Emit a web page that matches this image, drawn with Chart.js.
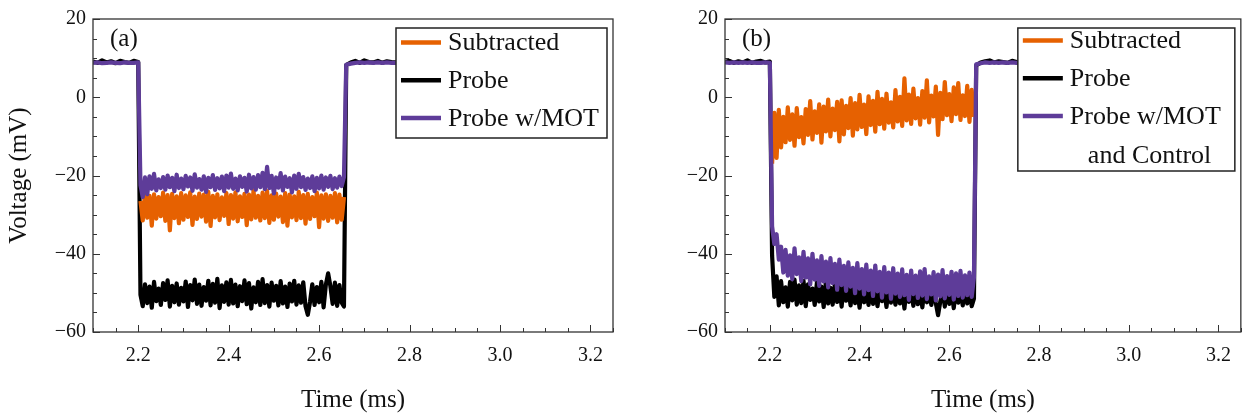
<!DOCTYPE html>
<html>
<head>
<meta charset="utf-8">
<script src="https://cdn.jsdelivr.net/npm/chart.js@4.4.1/dist/chart.umd.min.js"></script>
<style>
  html, body { margin: 0; padding: 0; background: #fff; }
  #wrap { position: relative; width: 1243px; height: 415px; }
  canvas { position: absolute; top: 0; }
</style>
</head>
<body>
<div id="wrap">
  <canvas id="panel-a" width="620" height="415" style="left:0"></canvas>
  <canvas id="panel-b" width="623" height="415" style="left:620px"></canvas>
</div>
<script>
// ─── Data ──────────────────────────────────────────────
// scope sampling: coarse on the flat parts, 5 µs through the pulse
const PRE   = [2.10, 2.20, 0.01];
const PULSE = [2.205, 2.655, 0.005];
const POST  = [2.66, 2.80, 0.01];

const seriesNames = ['Subtracted', 'Probe', 'Probe w/MOT'];
const xMajor = [2.2, 2.4, 2.6, 2.8, 3.0, 3.2];
const yMajor = [-60, -40, -20, 0, 20];

// panel (a) – values in mV, pre + pulse + post
const probeA = [
  9.1, 8.8, 9.4, 8.9, 9.2, 8.7, 9.3, 9.0, 8.8, 9.3, 9.0,
  -50.5, -53.4, -47.8, -52.6, -48.4, -53.8, -47.2, -52.1, -48.9, -53.1,
  -47.5, -51.8, -46.8, -53.5, -48.2, -52.4, -47.6, -53.0, -48.7, -52.2,
  -47.1, -53.6, -48.0, -51.9, -46.6, -52.8, -47.9, -53.3, -48.5, -52.0,
  -46.9, -53.2, -47.7, -52.5, -46.4, -53.9, -48.1, -52.3, -47.3, -53.0,
  -46.7, -52.7, -47.9, -53.4, -48.3, -52.1, -46.8, -52.9, -47.5, -54.0,
  -48.6, -52.4, -47.2, -53.1, -46.5, -52.6, -48.0, -53.5, -47.4, -52.0,
  -48.2, -53.2, -47.0, -52.7, -48.4, -53.6, -47.6, -52.2, -46.9, -53.0,
  -48.1, -52.5, -47.3, -53.4, -55.6, -52.3, -47.8, -53.1, -48.5, -52.4,
  -47.2, -53.7, -47.9, -45.0, -48.3, -52.8, -47.4, -53.3, -48.0, -52.5,
  -53.5,
  8.2, 8.9, 9.3, 8.8, 9.4, 9.0, 8.9, 9.3, 8.8, 9.2, 9.0, 8.9, 9.3, 9.0, 8.9
];
const motA = [
  8.8, 8.9, 8.7, 8.8, 8.9, 8.8, 8.7, 8.9, 8.8, 8.8, 8.9,
  -22.5, -25.5, -20.5, -24.8, -20.2, -23.4, -19.6, -23.8, -21.0, -23.2,
  -20.4, -23.6, -20.0, -23.0, -20.6, -24.0, -19.8, -23.2, -20.8, -23.5,
  -20.1, -22.8, -20.5, -23.9, -19.7, -23.1, -20.9, -23.6, -20.2, -24.2,
  -20.6, -23.0, -19.9, -23.7, -20.7, -23.3, -20.3, -24.0, -20.0, -23.1,
  -19.5, -23.4, -20.8, -23.8, -20.2, -22.9, -20.6, -24.1, -19.8, -23.3,
  -20.4, -23.6, -19.9, -23.0, -19.3, -23.5, -17.8, -23.2, -20.1, -24.6,
  -20.5, -23.1, -19.4, -23.8, -20.3, -22.9, -20.7, -24.3, -20.0, -23.4,
  -19.6, -23.0, -20.4, -23.7, -20.8, -23.2, -20.2, -24.0, -20.6, -23.3,
  -20.0, -23.6, -20.5, -22.9, -20.1, -23.5, -20.7, -23.1, -20.3, -22.7,
  -20.4,
  8.3, 8.6, 8.8, 8.9, 8.8, 8.9, 8.8, 8.9, 8.8, 8.9, 8.8, 8.8, 8.9, 8.8, 8.9
];
// subtracted trace only exists inside the pulse
const subA = [
  -26.5, -31.5, -24.6, -30.8, -25.2, -32.8, -24.8, -31.0, -25.5, -30.4,
  -24.4, -31.6, -25.0, -34.0, -24.7, -30.9, -25.3, -32.2, -24.5, -31.3,
  -25.1, -30.6, -24.3, -32.6, -25.4, -31.1, -24.6, -30.5, -24.9, -31.8,
  -24.2, -32.9, -25.2, -30.7, -24.8, -31.4, -25.6, -30.3, -24.5, -32.4,
  -25.0, -31.0, -24.3, -31.7, -25.3, -30.6, -24.7, -32.7, -24.9, -31.2,
  -23.8, -30.8, -25.2, -31.5, -24.4, -30.9, -24.0, -32.1, -25.1, -31.3,
  -24.6, -30.5, -25.4, -31.9, -24.5, -32.8, -24.9, -30.7, -25.3, -31.4,
  -24.2, -30.9, -25.0, -32.3, -24.7, -31.1, -25.5, -30.4, -24.4, -33.2,
  -25.1, -31.0, -24.8, -31.6, -25.2, -30.8, -24.5, -32.0, -24.9, -31.3,
  -25.5
];

// panel (b)
const probeB = [
  9.0, 9.3, 8.8, 9.2, 8.9, 9.4, 8.8, 9.1, 9.3, 8.9, 9.1,
  -40.5, -51.0, -45.8, -53.2, -47.0, -52.4, -48.6, -53.5, -47.2, -51.9,
  -46.6, -53.0, -48.1, -52.6, -46.9, -53.4, -47.8, -51.8, -48.9, -53.1,
  -47.3, -52.2, -48.4, -53.6, -47.0, -52.7, -48.7, -53.0, -47.6, -52.3,
  -48.2, -53.5, -47.4, -52.0, -49.0, -53.2, -48.0, -52.6, -49.2, -53.8,
  -48.5, -52.4, -49.4, -53.1, -48.3, -52.8, -49.6, -53.4, -48.8, -52.1,
  -49.1, -53.6, -48.4, -52.5, -49.7, -53.0, -48.9, -52.7, -49.3, -54.0,
  -48.6, -52.3, -49.8, -53.3, -48.2, -52.9, -49.5, -53.7, -48.7, -52.4,
  -49.2, -53.1, -48.8, -52.6, -55.7, -52.2, -49.0, -53.5, -48.5, -52.8,
  -49.4, -53.9, -48.9, -52.5, -49.6, -53.2, -48.3, -52.7, -49.1, -53.4,
  -51.5,
  8.1, 8.9, 9.2, 9.4, 8.9, 9.2, 9.0, 8.8, 9.3, 9.0, 8.9, 9.2, 9.0, 8.9, 9.1
];
const motB = [
  8.9, 8.8, 8.9, 8.8, 8.9, 8.8, 8.9, 8.8, 8.8, 8.9, 8.8,
  -33.0, -37.5, -35.0, -41.5, -38.2, -44.8, -39.0, -45.6, -40.4, -46.5,
  -38.6, -45.2, -40.9, -47.0, -39.5, -46.1, -41.2, -47.8, -40.0, -46.6,
  -41.7, -48.2, -40.6, -47.1, -42.0, -48.6, -41.1, -47.5, -42.6, -49.2,
  -41.5, -48.0, -43.1, -49.5, -42.2, -48.4, -43.6, -50.1, -42.4, -48.9,
  -43.9, -50.4, -42.8, -49.3, -44.3, -50.8, -43.0, -49.6, -44.6, -51.2,
  -43.4, -49.9, -44.8, -51.5, -43.7, -50.2, -45.1, -51.0, -44.0, -50.6,
  -45.4, -51.8, -44.3, -50.3, -45.6, -51.3, -44.5, -50.7, -43.9, -51.6,
  -45.8, -50.4, -44.7, -51.9, -45.3, -50.9, -44.2, -51.4, -45.7, -50.5,
  -44.6, -51.7, -45.0, -50.8, -44.4, -51.2, -45.5, -50.6, -44.8, -51.0,
  -46.0,
  8.4, 8.7, 8.9, 8.8, 8.9, 8.8, 8.9, 8.8, 8.9, 8.8, 8.9, 8.8, 8.9, 8.8, 8.8
];
const subB = [
  -17.0, -4.0, -15.5, -3.2, -12.8, -5.0, -11.5, -2.6, -10.9, -4.4,
  -12.4, -2.8, -10.2, -5.1, -11.8, -3.0, -9.6, -1.0, -10.8, -3.6,
  -9.1, -1.8, -11.6, -2.4, -8.7, -0.6, -10.0, -2.9, -8.4, -1.2,
  -11.3, -0.8, -9.5, -2.2, -7.9, -0.2, -9.8, -1.5, -8.2, 0.6,
  -7.6, -1.9, -9.4, 0.2, -7.1, -0.9, -8.8, 1.4, -6.9, -0.4,
  -8.0, 0.9, -6.5, -1.3, -7.7, 1.8, -6.2, 0.1, -7.3, 4.8,
  -5.9, 0.7, -6.8, 2.2, -5.4, -0.2, -7.0, 1.6, -5.2, 4.3,
  -6.4, 0.4, -4.9, 2.7, -9.6, 1.1, -5.6, 3.9, -4.6, 0.8,
  -6.1, 2.5, -4.3, 3.6, -5.8, 0.5, -4.8, 2.9, -6.3, 1.9,
  -5.0
];

// ─── Helpers ───────────────────────────────────────────

const ORANGE = '#e66101';
const BLACK  = '#000000';
const PURPLE = '#5e3c99';
const FONT   = '"Liberation Serif", "Times New Roman", serif';

function steps([from, to, dt]) {
  const n = Math.round((to - from) / dt);
  return Array.from({ length: n + 1 }, (_, i) => +(from + i * dt).toFixed(4));
}

const timePulse = steps(PULSE);
const timeFull  = [...steps(PRE), ...timePulse, ...steps(POST)];

const toPts = (times, vals) => vals.map((v, i) => ({ x: times[i], y: v }));
const isMajor = (v, list) => list.some(m => Math.abs(m - v) < 1e-6);

function tickMarks(ctx, scale, min, max, step, major, draw) {
  const n = Math.round((max - min) / step);
  for (let i = 0; i <= n; i++) {
    const v = min + i * step;
    draw(Math.round(scale.getPixelForValue(v)) + 0.5, isMajor(v, major) ? 7 : 4);
  }
}

// frame, inward ticks, panel tag and the boxed legend
const panelDeco = {
  id: 'panelDeco',
  afterDatasetsDraw(chart, args, opts) {
    const { ctx, chartArea: a, scales: { x, y } } = chart;
    ctx.save();

    // legend box
    const bw = opts.boxW, bh = opts.boxH;
    const bx = a.right - 6 - bw, by = a.top + 9;
    ctx.fillStyle = '#fff';
    ctx.fillRect(bx, by, bw, bh);
    ctx.lineWidth = 1.5;
    ctx.strokeStyle = '#222';
    ctx.strokeRect(bx, by, bw, bh);

    ctx.font = '26px ' + FONT;
    ctx.textBaseline = 'middle';
    ctx.textAlign = 'left';
    opts.items.forEach((it, i) => {
      const ry = by + opts.rowTop + i * 37.7;
      ctx.strokeStyle = it.color;
      ctx.lineWidth = 4.5;
      ctx.beginPath();
      ctx.moveTo(bx + 5, ry);
      ctx.lineTo(bx + 45, ry);
      ctx.stroke();
      ctx.fillStyle = '#111';
      ctx.fillText(it.label, bx + 52, ry + 1);
    });
    if (opts.extra) {
      const ry = by + opts.rowTop + opts.items.length * 37.7 + 2;
      ctx.fillText(opts.extra, bx + 70, ry + 1);
    }

    // panel tag
    ctx.font = '25px ' + FONT;
    ctx.fillText(opts.tag, a.left + 17, 39);

    // frame
    ctx.strokeStyle = '#333';
    ctx.lineWidth = 1.3;
    ctx.strokeRect(a.left, a.top, a.right - a.left, a.bottom - a.top);

    // ticks pointing into the plot, left and bottom only
    ctx.lineWidth = 1;
    ctx.beginPath();
    tickMarks(ctx, x, 2.1, 3.25, 0.05, xMajor, (px, len) => {
      ctx.moveTo(px, a.bottom);
      ctx.lineTo(px, a.bottom - len);
    });
    tickMarks(ctx, y, -60, 20, 5, yMajor, (py, len) => {
      ctx.moveTo(a.left, py);
      ctx.lineTo(a.left + len, py);
    });
    ctx.stroke();
    ctx.restore();
  }
};

function makePanel(id, d, cfg) {
  const line = (label, data, color, order) => ({
    label, data, order,
    borderColor: color,
    borderWidth: 4.2,
    borderJoinStyle: 'round',
    pointRadius: 0,
    tension: 0,
  });

  return new Chart(document.getElementById(id), {
    type: 'line',
    data: {
      datasets: [
        line(seriesNames[0], toPts(timePulse, d.sub), ORANGE, 2),
        line(seriesNames[1], toPts(timeFull, d.probe), BLACK, 3),
        line(seriesNames[2], toPts(timeFull, d.mot), PURPLE, 1),
      ],
    },
    options: {
      responsive: false,
      animation: false,
      devicePixelRatio: 1,
      events: [],
      layout: { padding: { top: 15, right: cfg.padRight, left: 0, bottom: 0 } },
      plugins: {
        legend: { display: false },
        tooltip: { enabled: false },
        panelDeco: cfg.deco,
      },
      scales: {
        x: {
          type: 'linear',
          min: 2.1,
          max: 3.25,
          afterBuildTicks: s => { s.ticks = xMajor.map(v => ({ value: v })); },
          afterFit: s => { s.height = 83; },
          grid: { display: false, drawTicks: false },
          border: { display: false },
          ticks: {
            padding: 12,
            autoSkip: false,
            maxRotation: 0,
            color: '#111',
            font: { family: FONT, size: 20 },
            callback: v => v.toFixed(1),
          },
          title: {
            display: true,
            text: 'Time (ms)',
            color: '#111',
            font: { family: FONT, size: 25, lineHeight: 1 },
            padding: { top: 0, bottom: 2 },
          },
        },
        y: {
          min: -60,
          max: 20,
          afterBuildTicks: s => { s.ticks = yMajor.map(v => ({ value: v })); },
          afterFit: s => { s.width = cfg.yWidth; },
          grid: { display: false, drawTicks: false },
          border: { display: false },
          ticks: {
            padding: 7,
            color: '#111',
            font: { family: FONT, size: 20 },
            callback: v => String(v).replace('-', '\u2212'),
          },
          title: {
            display: cfg.yTitle,
            text: 'Voltage (mV)',
            color: '#111',
            font: { family: FONT, size: 25, lineHeight: 1 },
            padding: { top: 7, bottom: 0 },
          },
        },
      },
    },
    plugins: [panelDeco],
  });
}

// ─── Start ─────────────────────────────────────────────

const legendItems = [
  { label: seriesNames[0], color: ORANGE },
  { label: seriesNames[1], color: BLACK },
  { label: seriesNames[2], color: PURPLE },
];

makePanel('panel-a', { probe: probeA, mot: motA, sub: subA }, {
  padRight: 7, yWidth: 93, yTitle: true,
  deco: { tag: '(a)', items: legendItems, boxW: 211, boxH: 110, rowTop: 14.5 },
});

makePanel('panel-b', { probe: probeB, mot: motB, sub: subB }, {
  padRight: 2, yWidth: 105, yTitle: false,
  deco: { tag: '(b)', items: legendItems, extra: 'and Control', boxW: 217, boxH: 143, rowTop: 12.5 },
});
</script>
</body>
</html>
